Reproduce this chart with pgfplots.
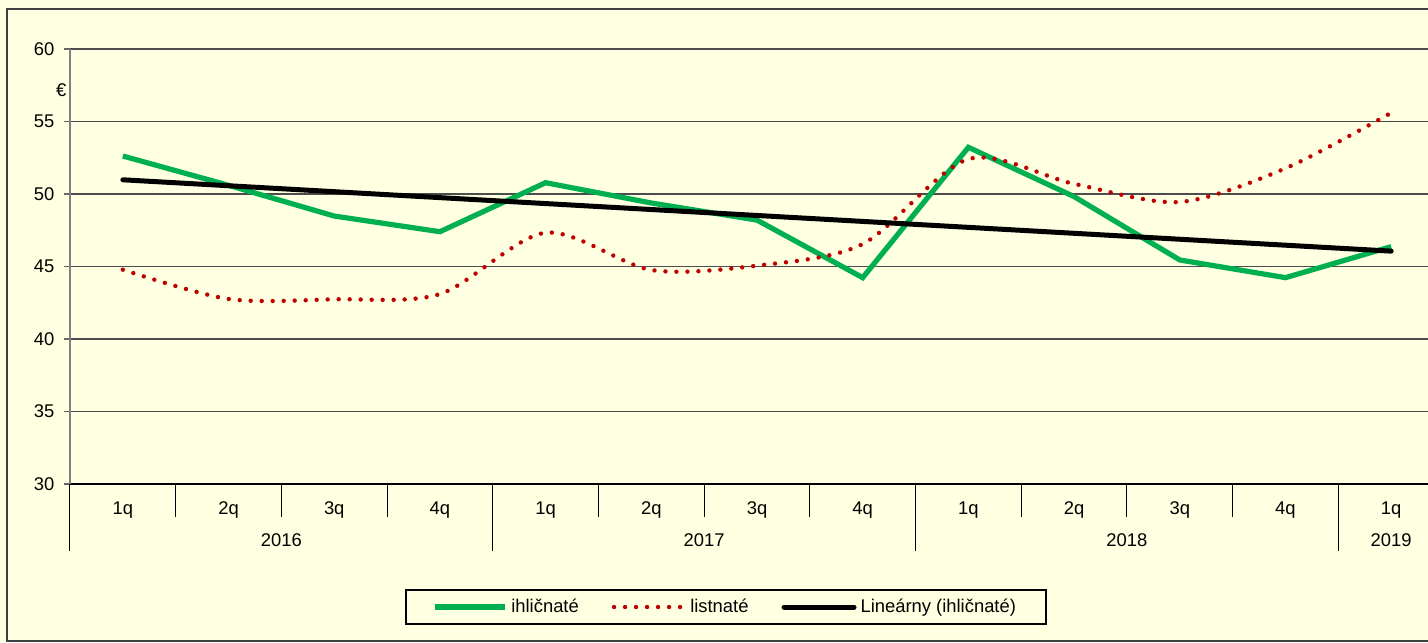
\documentclass[border=0pt]{standalone}
\usepackage{pgfplots}
\pgfplotsset{compat=1.18}
\usepackage{fontspec}
\setmainfont{Liberation Sans}
\definecolor{bgyellow}{RGB}{255,255,225}
\definecolor{xgreen}{RGB}{0,176,80}
\definecolor{xred}{RGB}{192,0,0}
\begin{document}
\fontsize{9.2}{11}\selectfont
\begin{tikzpicture}
\useasboundingbox (0,0) rectangle (714pt,-321pt);
\fill[bgyellow] (0,0) rectangle (714pt,-321pt);
\draw[black!75, line width=1pt] (3.5pt,-4.5pt) rectangle (740pt,-320.5pt);
\begin{axis}[
  at={(35pt,-242pt)}, anchor=south west,
  scale only axis, width=687pt, height=217.5pt,
  xmin=0.5, xmax=13.5, ymin=30, ymax=60,
  clip=false,
  axis x line*=bottom, axis y line*=left,
  x axis line style={black, line width=0.7pt},
  y axis line style={black!50, line width=0.7pt},
  ytick={30,35,...,60},
  ytick pos=left,
  tick align=outside,
  major tick length=3pt,
  ytick style={black!60, line width=0.6pt},
  ymajorgrids,
  major grid style={black!70, line width=0.6pt},
  xtick={1,...,13},
  xticklabels={1q,2q,3q,4q,1q,2q,3q,4q,1q,2q,3q,4q,1q},
  xtick style={draw=none},
  xticklabel style={anchor=base, yshift=-12pt},
  yticklabel style={anchor=east, xshift=-1.5pt},
  ticklabel style={font=\fontsize{9.2}{11}\selectfont},
  /pgf/number format/assume math mode=true,
  legend columns=3,
  legend style={at={(0.4775,-0.2828)}, anchor=center, draw=black,
    line width=0.9pt, fill=none, inner xsep=13pt, inner ysep=2.5pt,
    font=\fontsize{9.2}{11}\selectfont,
    /tikz/every even column/.append style={column sep=14.5pt}},
  legend image code/.code={\draw[#1] (0pt,0pt) -- (35pt,0pt);},
]
\addplot[xgreen, line width=2.6pt] coordinates {
 (1,52.62) (2,50.6) (3,48.48) (4,47.4) (5,50.78) (6,49.38) (7,48.2)
 (8,44.23) (9,53.22) (10,49.82) (11,45.45) (12,44.23) (13,46.37)};
\addlegendentry{ihličnaté}
\addplot[xred, line width=2.2pt, line cap=round, dash pattern=on 0pt off 5.5pt, smooth] coordinates {
 (1,44.78) (2,42.76) (3,42.74) (4,43.1) (5,47.33) (6,44.76) (7,45.06)
 (8,46.55) (9,52.41) (10,50.7) (11,49.45) (12,51.77) (13,55.6)};
\addlegendentry{listnaté}
\addplot[black, line width=2.5pt, line cap=round] coordinates {(1,50.98) (13,46.06)};
\addlegendentry{Lineárny (ihličnaté)}
\pgfplotsinvokeforeach{1.5,2.5,3.5,5.5,6.5,7.5,9.5,10.5,11.5,13.5}{
  \draw[black, line width=0.5pt] (axis cs:#1,30) -- ++(0pt,-16.5pt);}
\pgfplotsinvokeforeach{0.5,4.5,8.5,12.5}{
  \draw[black, line width=0.5pt] (axis cs:#1,30) -- ++(0pt,-33.5pt);}
\node[anchor=base, yshift=-31pt] at (axis cs:2.5,30) {2016};
\node[anchor=base, yshift=-31pt] at (axis cs:6.5,30) {2017};
\node[anchor=base, yshift=-31pt] at (axis cs:10.5,30) {2018};
\node[anchor=base, yshift=-31pt] at (axis cs:13,30) {2019};
\node[anchor=east, xshift=1.5pt] at (axis cs:0.5,57.17) {€};
\end{axis}
\end{tikzpicture}
\end{document}
